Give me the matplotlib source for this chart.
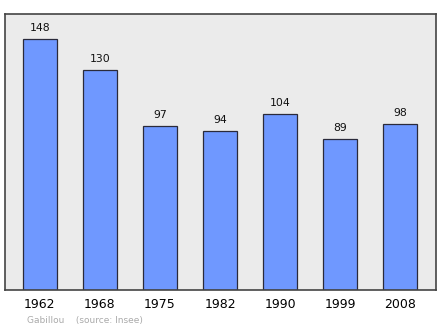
import matplotlib
matplotlib.use("Agg")
import matplotlib.pyplot as plt

years = ["1962", "1968", "1975", "1982", "1990", "1999", "2008"]
population = [148, 130, 97, 94, 104, 89, 98]

fig = plt.figure(figsize=(4.40, 3.29), dpi=100)
ax = fig.add_axes([0.0114, 0.1185, 0.98, 0.839])
ax.set_facecolor("#ebebeb")

x = list(range(len(years)))
ax.bar(x, population, width=0.57, color="#6f98ff", edgecolor="#2a2a3a", linewidth=0.9)

# value labels above each bar
for xi, v in zip(x, population):
    ax.text(xi, v + 3.5, str(v), ha="center", va="bottom", fontsize=7.8, color="#111111")

ax.set_xlim(-0.58, 6.6)
ax.set_ylim(0, 163)
ax.set_yticks([])
ax.set_xticks(x)
ax.set_xticklabels(years, fontsize=9)
ax.tick_params(axis="x", length=0, pad=6)
for s in ax.spines.values():
    s.set_color("#444444")
    s.set_linewidth(1.2)

fig.text(27 / 440, 1 - 321 / 329, "Gabillou    (source: Insee)", fontsize=6.5,
         color="#aaaaaa", va="center", ha="left")

fig.savefig("out.png", dpi=100)
